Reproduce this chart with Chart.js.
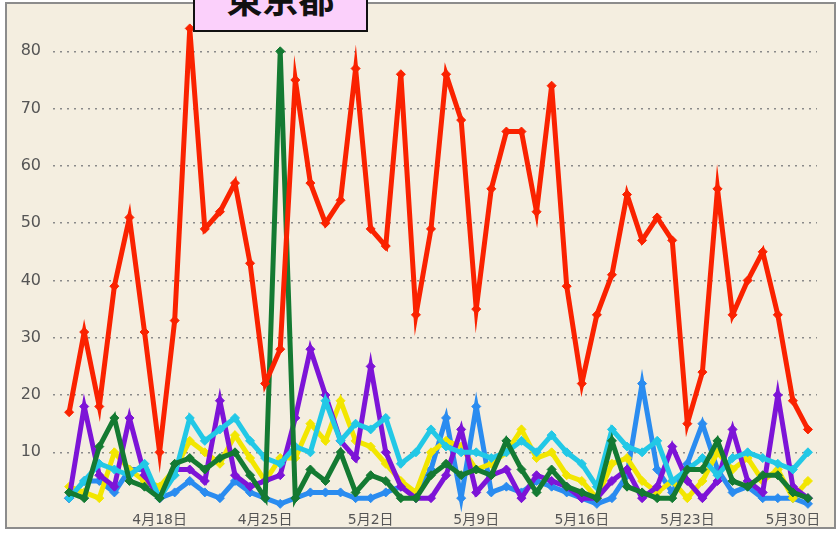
<!DOCTYPE html>
<html>
<head>
<meta charset="utf-8">
<script src="https://cdn.jsdelivr.net/npm/chart.js@4.4.1/dist/chart.umd.min.js"></script>
<style>
  body { margin: 0; background: #fff; overflow: hidden; }
  #frame { position: absolute; left: 5px; top: 2px; width: 827px; height: 523px;
           border: 2px solid #8c8c8c; background: #f4eee0; }
  #chart { position: absolute; left: 0; top: 0; }
  #title { position: absolute; left: 193px; top: -12px; width: 171px; height: 40px;
           border: 2px solid #111; background: #fbd0fb; overflow: hidden; z-index: 5; }
  #title span { position: absolute; left: 0; right: 0; top: -15px; text-align: center;
           font-family: "Noto Sans CJK JP"; font-weight: bold; font-size: 36px; line-height: 44px; color: #111; }
</style>
</head>
<body>
<div id="frame"></div>
<canvas id="chart" width="839" height="533"></canvas>
<div id="title"><span>東京都</span></div>
<script>
// 4月12日 ～ 5月31日
var startMonth = 4
var startDay = 12
var dayCount = 50
var tickDays = [6, 13, 20, 27, 34, 41, 48]
var yTicks = [10, 20, 30, 40, 50, 60, 70, 80]

var red    = [17,31,18,39,51,31,10,33,84,49, 52,57,43,22,28,75,57,50,54,77, 49,46,76,34,49,76,68,35,56,66, 66,52,74,39,22,34,41,55,47,51, 47,15,24,56,34,40,45,34,19,14]
var green  = [3,2,11,16,5,4,2,8,9,7, 9,10,6,2,80,2,7,5,10,3, 6,5,2,2,6,8,6,7,6,12, 7,3,7,4,3,2,12,4,3,2, 2,7,7,12,5,4,6,6,3,2]
var purple = [2,18,6,4,16,6,2,7,7,5, 19,6,4,5,6,16,28,20,12,9, 25,10,4,2,2,6,14,3,6,7, 2,6,5,4,2,2,5,7,2,4, 11,5,2,5,14,5,3,20,4,2]
var yellow = [4,3,2,10,7,5,4,7,12,10, 8,13,9,5,9,9,15,12,19,12, 11,8,5,3,10,12,11,7,8,10, 14,9,10,6,5,2,8,9,5,3, 5,2,5,10,7,9,5,7,2,5]
var cyan   = [2,5,8,7,6,8,2,6,16,12, 14,16,12,9,8,11,10,19,12,15, 14,16,8,10,14,11,10,10,9,10, 12,10,13,10,8,4,14,11,10,12, 5,7,9,6,9,10,9,8,7,10]
var blue   = [2,5,5,3,7,7,2,3,5,3, 2,5,3,2,1,2,3,3,3,2, 2,3,4,3,7,16,2,18,3,4, 3,5,4,3,2,1,2,6,22,7, 3,8,15,7,3,4,2,2,2,1]

var dates = []
for (let i = 0; i < dayCount; i++) {
  let d = new Date(2020, startMonth - 1, startDay + i)
  dates.push((d.getMonth() + 1) + "月" + d.getDate() + "日")
}

function pts(arr) {
  return arr.map(function (v, i) { return { x: i, y: v } })
}

function line(data, color) {
  return {
    data: pts(data),
    borderColor: color,
    backgroundColor: color,
    borderWidth: 5,
    pointStyle: 'rectRot',
    pointRadius: 4.5,
    pointBorderWidth: 1,
    tension: 0,
    clip: false
  }
}

new Chart(document.getElementById("chart"), {
  type: 'line',
  data: {
    datasets: [
      line(red, "#fa2200"),
      line(green, "#147a32"),
      line(cyan, "#22c8e6"),
      line(purple, "#7d14d7"),
      line(yellow, "#f2e600"),
      line(blue, "#2a8cf0")
    ]
  },
  options: {
    responsive: false,
    animation: false,
    devicePixelRatio: 1,
    layout: { padding: { left: 0, right: 22, top: 3, bottom: 0 } },
    plugins: { legend: { display: false }, tooltip: { enabled: false } },
    scales: {
      x: {
        type: 'linear',
        min: -1.07,
        max: 49.6,
        afterFit: function (s) { s.height = 23.4 },
        afterBuildTicks: function (s) { s.ticks = tickDays.map(function (v) { return { value: v } }) },
        grid: { display: false, drawTicks: false },
        border: { display: false },
        ticks: {
          padding: 2,
          maxRotation: 0,
          autoSkip: false,
          color: "#555",
          font: { family: "'DejaVu Sans', 'Noto Sans CJK JP'", size: 14 },
          callback: function (v) { return dates[v] }
        }
      },
      y: {
        min: 0,
        max: 88,
        afterFit: function (s) { s.width = 53; s.paddingTop = 0; s.paddingBottom = 0 },
        afterBuildTicks: function (s) { s.ticks = yTicks.map(function (v) { return { value: v } }) },
        grid: {
          drawTicks: false,
          color: "#8a8a8a",
          lineWidth: 1.5
        },
        border: { display: false, dash: [2, 5] },
        ticks: {
          padding: 12,
          color: "#555",
          font: { family: "'DejaVu Sans'", size: 16 }
        }
      }
    }
  }
});
</script>
</body>
</html>
